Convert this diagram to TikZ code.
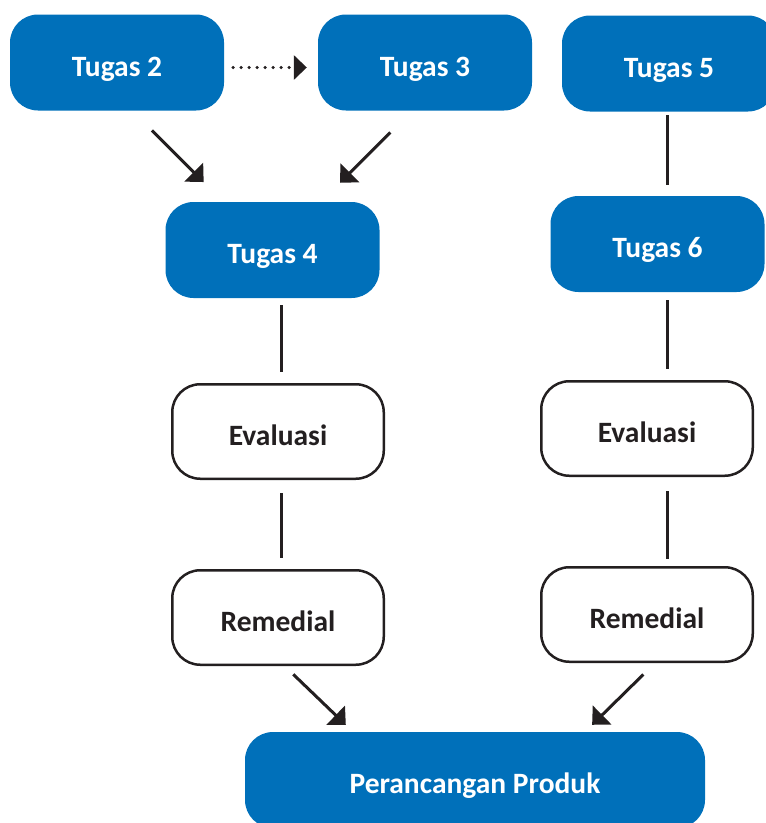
\documentclass[tikz,border=0pt]{standalone}
\usepackage{fontspec}
\setmainfont{Carlito}
\usepackage{tikz}
\usetikzlibrary{arrows.meta}
\definecolor{tugasblue}{RGB}{0,112,186}
\definecolor{ink}{RGB}{35,31,32}

\tikzset{
tugas/.style={rounded corners=28pt, fill=tugasblue, text=white, minimum width=214pt, minimum height=96pt, inner sep=0pt, text height=27pt, text depth=0pt, font=\fontsize{29.5}{33}\selectfont\bfseries},
langkah/.style={rounded corners=28pt, draw=ink, line width=2.5pt, fill=white, text=ink, minimum width=211.5pt, minimum height=94.5pt, inner sep=0pt, text height=27pt, text depth=0pt, font=\fontsize{29.5}{33}\selectfont\bfseries},
garis/.style={-, draw=ink, line width=3pt},
panah/.style={-{Triangle[length=14pt,width=26pt]}, draw=ink, line width=3pt},
titik/.style={-{Triangle[length=13pt,width=24pt]}, draw=ink, line width=3.5pt, dash pattern=on 0pt off 8pt, line cap=round}
}

\begin{document}
\begin{tikzpicture}[x=1pt,y=-1pt]
\useasboundingbox (0,0) rectangle (766,823);
\node (2) at (117,62.5) [tugas] {Tugas 2};
\node (3) at (425,62.5) [tugas] {Tugas 3};
\node (5) at (669,63.5) [tugas] {Tugas 5};
	\node (4) at (272.5,250) [tugas] {Tugas 4};
	\node (6) at (657.5,244) [tugas] {Tugas 6};
		\node (ev4) at (278,431.5) [langkah] {Evaluasi};
		\node (ev6) at (647,428.5) [langkah] {Evaluasi};
			\node (rem4) at (278,617.5) [langkah] {Remedial};
			\node (rem6) at (647,614.5) [langkah] {Remedial};
				\node (prod) at (475,780) [tugas, minimum width=460pt] {Perancangan Produk};

\draw[titik, shorten <=9pt, shorten >=11pt] ([yshift=-5pt]2.east) -- ([yshift=-5pt]3.west);
\draw[panah, shorten <=28pt, shorten >=28pt] ([xshift=15pt]2.south) -- ([xshift=-49pt]4.north);
\draw[panah, shorten <=30.7pt, shorten >=26.9pt] ([xshift=-13pt]3.south) -- ([xshift=48.5pt]4.north);
\draw[garis, shorten <=7pt, shorten >=11pt] ([xshift=8.5pt]4.south) -- ([xshift=3pt]ev4.north);
\draw[garis, shorten <=13pt, shorten >=11pt] ([xshift=3pt]ev4.south) -- ([xshift=3pt]rem4.north);
\draw[garis, shorten <=3.5pt, shorten >=11pt] ([xshift=-2pt]5.south) -- ([xshift=9.5pt]6.north);
\draw[garis, shorten <=8pt, shorten >=11pt] ([xshift=9.5pt]6.south) -- ([xshift=20pt]ev6.north);
\draw[garis, shorten <=14pt, shorten >=7pt] ([xshift=20pt]ev6.south) -- ([xshift=20pt]rem6.north);
\draw[panah, shorten <=12pt, shorten >=10pt] ([xshift=6.6pt]rem4.south) -- ([xshift=-122pt]prod.north);
\draw[panah, shorten <=16.3pt, shorten >=10pt] ([xshift=8pt]rem6.south) -- ([xshift=110pt]prod.north);
\end{tikzpicture}
\end{document}
